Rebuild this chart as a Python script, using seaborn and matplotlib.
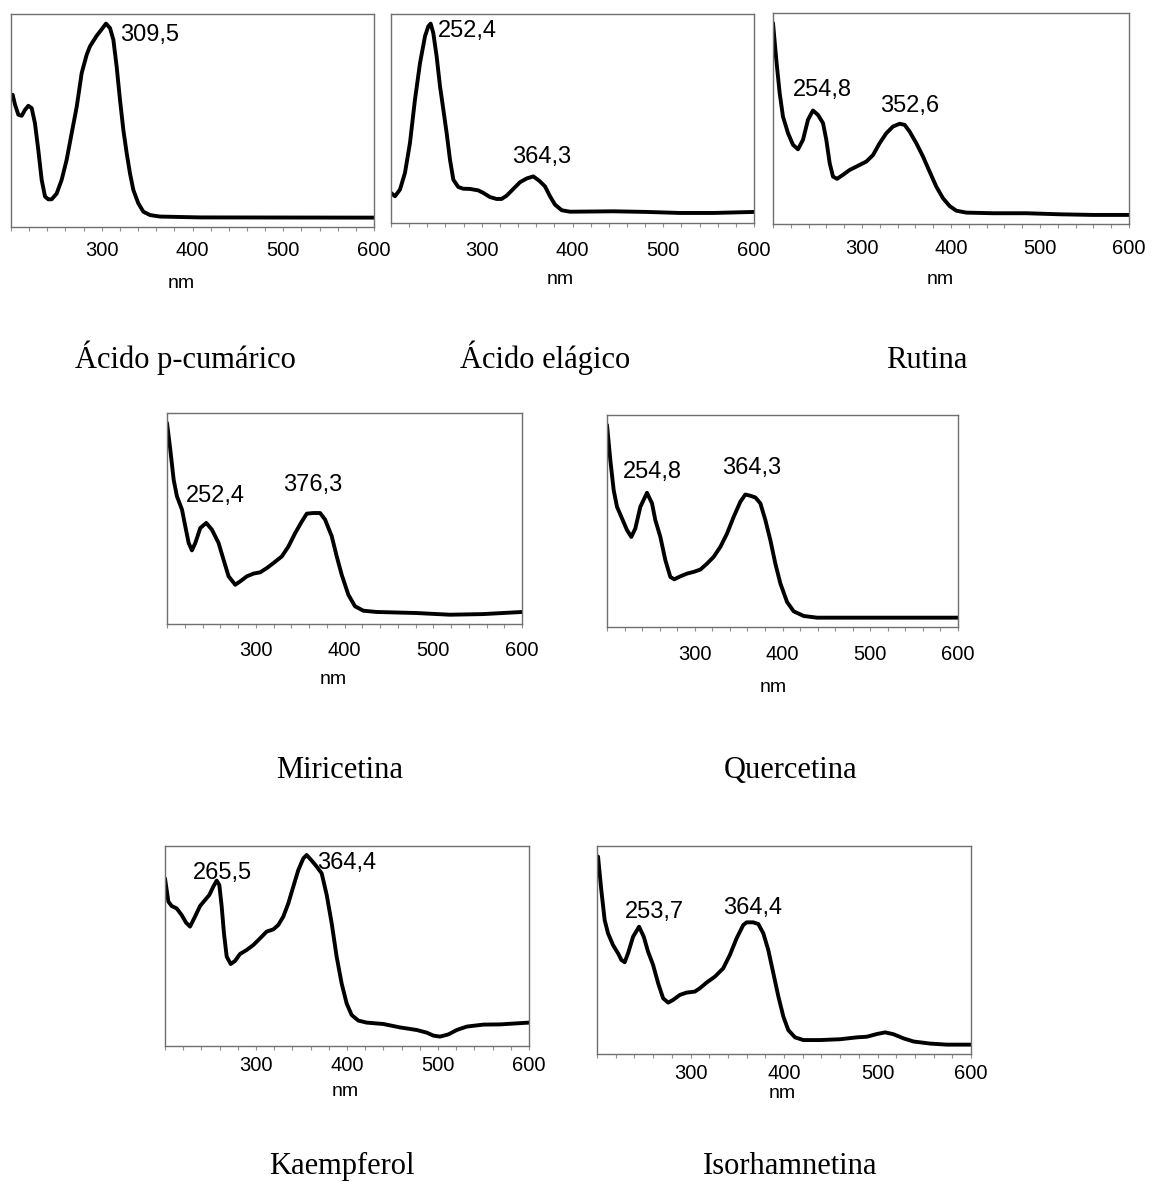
import numpy as np
import pandas as pd
import matplotlib
matplotlib.use("Agg")
import matplotlib.pyplot as plt
from matplotlib.ticker import MultipleLocator
import seaborn as sns

# spectra (nm, relative absorbance 0-1 of the box)
cumarico_nm = [201.8, 204.4, 208.1, 211.8, 215.4, 219.1, 222.8, 226.4, 230.1, 233.8, 237.5, 241.1, 244.8,
               250.3, 255.8, 261.3, 266.8, 272.4, 277.9, 283.4, 287.0, 294.4, 298.1, 304.7, 309.1, 312.8,
               316.4, 320.1, 323.8, 327.5, 331.1, 334.8, 340.3, 345.8, 353.2, 364.2, 408.3, 600.0]
cumarico_abs = [0.621, 0.575, 0.527, 0.522, 0.550, 0.569, 0.558, 0.487, 0.361, 0.221, 0.143, 0.130, 0.130,
                0.157, 0.221, 0.315, 0.439, 0.564, 0.723, 0.809, 0.848, 0.898, 0.918, 0.955, 0.934, 0.879,
                0.754, 0.597, 0.456, 0.346, 0.252, 0.174, 0.111, 0.072, 0.056, 0.049, 0.045, 0.044]

elagico_nm = [200.0, 204.4, 209.9, 215.4, 220.9, 226.4, 232.0, 237.5, 241.1, 243.7, 246.6, 250.3, 254.0,
              257.7, 261.3, 265.0, 268.7, 274.2, 279.7, 287.0, 296.2, 301.7, 309.1, 316.4, 321.9, 327.5,
              334.8, 342.1, 349.5, 356.8, 363.4, 369.7, 375.2, 380.7, 388.1, 397.2, 445.0, 481.7, 518.5,
              555.2, 600.0]
elagico_abs = [0.144, 0.128, 0.160, 0.240, 0.383, 0.590, 0.766, 0.894, 0.941, 0.954, 0.909, 0.797, 0.654,
               0.542, 0.431, 0.303, 0.207, 0.172, 0.164, 0.163, 0.156, 0.144, 0.124, 0.115, 0.115, 0.131,
               0.163, 0.195, 0.213, 0.223, 0.202, 0.175, 0.128, 0.088, 0.061, 0.054, 0.056, 0.053, 0.048,
               0.048, 0.053]

rutina_nm = [200.0, 203.7, 207.5, 211.2, 216.9, 222.5, 228.1, 233.7, 239.3, 244.9, 250.6, 256.2, 259.9,
             263.7, 267.4, 271.9, 278.6, 286.1, 297.4, 304.9, 312.4, 319.8, 327.3, 334.8, 342.3, 347.9,
             353.5, 361.0, 368.5, 376.0, 383.5, 391.0, 398.5, 406.0, 417.2, 447.2, 484.6, 522.1, 559.6, 600.0]
rutina_abs = [0.953, 0.778, 0.620, 0.509, 0.430, 0.375, 0.354, 0.399, 0.494, 0.538, 0.517, 0.478, 0.399,
              0.288, 0.225, 0.214, 0.233, 0.256, 0.280, 0.296, 0.327, 0.383, 0.430, 0.462, 0.475, 0.470,
              0.438, 0.383, 0.320, 0.248, 0.177, 0.122, 0.085, 0.063, 0.054, 0.051, 0.051, 0.046, 0.043, 0.043]

miricetina_nm = [200.0, 203.7, 207.5, 211.2, 216.9, 220.6, 224.4, 228.1, 231.9, 237.5, 244.2, 250.6, 258.1,
                 263.7, 269.4, 276.9, 282.5, 290.0, 297.5, 305.0, 312.5, 320.0, 329.3, 336.8, 344.3, 351.8,
                 357.5, 365.0, 372.5, 378.1, 385.6, 391.2, 396.8, 404.3, 411.8, 421.2, 436.2, 481.2, 518.7,
                 556.2, 600.0]
miricetina_abs = [0.953, 0.827, 0.684, 0.605, 0.542, 0.463, 0.384, 0.349, 0.384, 0.455, 0.479, 0.447, 0.384,
                  0.305, 0.226, 0.186, 0.202, 0.226, 0.239, 0.245, 0.265, 0.289, 0.320, 0.367, 0.430, 0.485,
                  0.523, 0.526, 0.526, 0.495, 0.416, 0.321, 0.234, 0.139, 0.084, 0.063, 0.057, 0.052, 0.044,
                  0.047, 0.057]

quercetina_nm = [200.0, 203.8, 207.6, 211.4, 217.1, 222.8, 227.7, 232.3, 238.0, 245.6, 251.3, 255.1, 260.8,
                 266.5, 272.2, 276.7, 283.6, 291.2, 298.8, 306.4, 314.0, 321.6, 329.2, 336.8, 344.4, 352.0,
                 357.7, 363.4, 369.1, 374.8, 380.5, 386.2, 391.9, 397.6, 405.2, 412.7, 424.1, 439.3, 484.9,
                 560.9, 600.0]
quercetina_abs = [0.953, 0.787, 0.646, 0.567, 0.512, 0.457, 0.425, 0.465, 0.567, 0.633, 0.583, 0.504, 0.425,
                  0.315, 0.236, 0.225, 0.239, 0.252, 0.260, 0.271, 0.299, 0.331, 0.378, 0.441, 0.520, 0.591,
                  0.625, 0.619, 0.611, 0.583, 0.504, 0.409, 0.298, 0.205, 0.118, 0.074, 0.052, 0.044, 0.044,
                  0.044, 0.044]

kaempferol_nm = [200.0, 203.7, 207.3, 212.8, 218.3, 223.1, 227.5, 233.0, 238.5, 244.0, 248.7, 253.1, 256.8,
                 259.7, 262.3, 264.8, 267.8, 272.2, 276.9, 282.4, 289.7, 297.1, 304.4, 311.7, 319.0, 324.5,
                 330.0, 335.5, 341.0, 346.5, 352.0, 355.7, 361.2, 366.7, 372.2, 377.7, 383.2, 388.6, 394.1,
                 399.6, 405.1, 412.5, 421.6, 439.9, 458.2, 476.6, 487.5, 494.9, 502.2, 511.4, 520.6, 531.5,
                 549.8, 568.1, 600.0]
kaempferol_abs = [0.838, 0.722, 0.700, 0.688, 0.655, 0.617, 0.597, 0.647, 0.700, 0.730, 0.755, 0.797, 0.827,
                  0.805, 0.697, 0.563, 0.447, 0.410, 0.425, 0.460, 0.480, 0.505, 0.538, 0.572, 0.583, 0.605,
                  0.647, 0.713, 0.797, 0.880, 0.938, 0.955, 0.927, 0.897, 0.863, 0.755, 0.613, 0.447, 0.313,
                  0.213, 0.155, 0.127, 0.117, 0.110, 0.093, 0.080, 0.067, 0.052, 0.047, 0.058, 0.080, 0.097,
                  0.107, 0.108, 0.117]

isorham_nm = [201.1, 204.6, 208.2, 211.8, 217.1, 222.5, 226.1, 229.6, 233.2, 238.6, 245.0, 250.0, 254.6,
              260.0, 265.4, 270.7, 276.1, 281.4, 288.6, 295.7, 304.6, 310.0, 317.1, 326.1, 335.0, 342.1,
              349.3, 356.4, 360.0, 367.1, 372.5, 377.9, 383.2, 388.6, 394.0, 399.3, 404.6, 411.8, 420.7,
              438.6, 460.0, 477.9, 488.6, 499.3, 508.2, 517.1, 527.9, 538.6, 556.4, 574.3, 600.0]
isorham_abs = [0.949, 0.788, 0.644, 0.580, 0.524, 0.484, 0.452, 0.441, 0.484, 0.564, 0.612, 0.564, 0.492,
               0.428, 0.340, 0.268, 0.247, 0.260, 0.284, 0.295, 0.300, 0.316, 0.343, 0.372, 0.412, 0.476,
               0.556, 0.620, 0.633, 0.633, 0.625, 0.580, 0.500, 0.388, 0.276, 0.180, 0.115, 0.080, 0.067,
               0.067, 0.071, 0.080, 0.083, 0.096, 0.104, 0.095, 0.075, 0.060, 0.050, 0.045, 0.045]

names = ["Ácido p-cumárico", "Ácido elágico", "Rutina", "Miricetina", "Quercetina", "Kaempferol", "Isorhamnetina"]
xticks = [300, 400, 500, 600]

# peak labels: (text, x, y, ha)
peaks = [
    [("309,5", 320, 0.90, "left")],
    [("252,4", 252, 0.917, "left"), ("364,3", 366, 0.314, "center")],
    [("254,8", 256, 0.636, "center"), ("352,6", 353.5, 0.56, "center")],
    [("252,4", 254.4, 0.605, "center"), ("376,3", 363.8, 0.66, "center")],
    [("254,8", 251.3, 0.732, "center"), ("364,3", 365.3, 0.751, "center")],
    [("265,5", 263.4, 0.867, "center"), ("364,4", 399.6, 0.917, "center")],
    [("253,7", 261.8, 0.684, "center"), ("364,4", 366.4, 0.70, "center")],
]

spectra = [(cumarico_nm, cumarico_abs), (elagico_nm, elagico_abs), (rutina_nm, rutina_abs),
           (miricetina_nm, miricetina_abs), (quercetina_nm, quercetina_abs),
           (kaempferol_nm, kaempferol_abs), (isorham_nm, isorham_abs)]

# box pixels: left, right, top, bottom ; nm label centre ; title baseline
boxes = [(11, 374, 14, 227), (391, 754, 14, 223), (773, 1129, 13, 224),
         (167, 522, 413, 624), (607, 958, 415, 627),
         (165, 529, 846, 1046), (597, 971, 846, 1054)]
nm_pos = [(181, 283), (560, 280), (940, 280), (333, 680), (773, 688), (345, 1091), (782, 1094)]
title_pos = [(185, 368), (545, 368), (927, 368), (340, 778), (791, 778), (342, 1174), (790, 1174)]
tick_pad = [7, 10, 8, 9, 10, 4, 4]

W, H = 1161, 1189

sns.set_style("white")
plt.rcParams['font.family'] = ['Liberation Sans', 'DejaVu Sans']
plt.rcParams['text.color'] = 'black'

fig = plt.figure(figsize=(W / 100, H / 100), dpi=100)

for i, (nm, ab) in enumerate(spectra):
    l, r, t, b = boxes[i]
    ax = fig.add_axes([l / W, 1 - b / H, (r - l) / W, (b - t) / H])
    df = pd.DataFrame({"nm": nm, "abs": ab})
    sns.lineplot(data=df, x="nm", y="abs", ax=ax, color="black", linewidth=2.8, sort=False,
                 solid_joinstyle="round", solid_capstyle="round")
    ax.set_xlim(200, 600)
    ax.set_ylim(0, 1)
    ax.set_xticks(xticks)
    ax.xaxis.set_minor_locator(MultipleLocator(20))
    ax.set_yticks([])
    ax.set_xlabel("")
    ax.set_ylabel("")
    ax.tick_params(axis="x", which="both", direction="out", length=3, width=0.8,
                   color="#909090", labelcolor="black", labelsize=14.5, pad=tick_pad[i], bottom=True)
    for s in ax.spines.values():
        s.set_color("#707070")
        s.set_linewidth(1.0)
    for txt, px, py, ha in peaks[i]:
        ax.text(px, py, txt, ha=ha, va="center", fontsize=17, color="black")

    fig.text(nm_pos[i][0] / W, 1 - nm_pos[i][1] / H, "nm", ha="center", va="center", fontsize=14,
             color="black")
    fig.text(title_pos[i][0] / W, 1 - title_pos[i][1] / H, names[i], ha="center", va="baseline",
             fontsize=22, color="black", family=["Liberation Serif", "DejaVu Serif"])

fig.savefig("out.png", dpi=100)
